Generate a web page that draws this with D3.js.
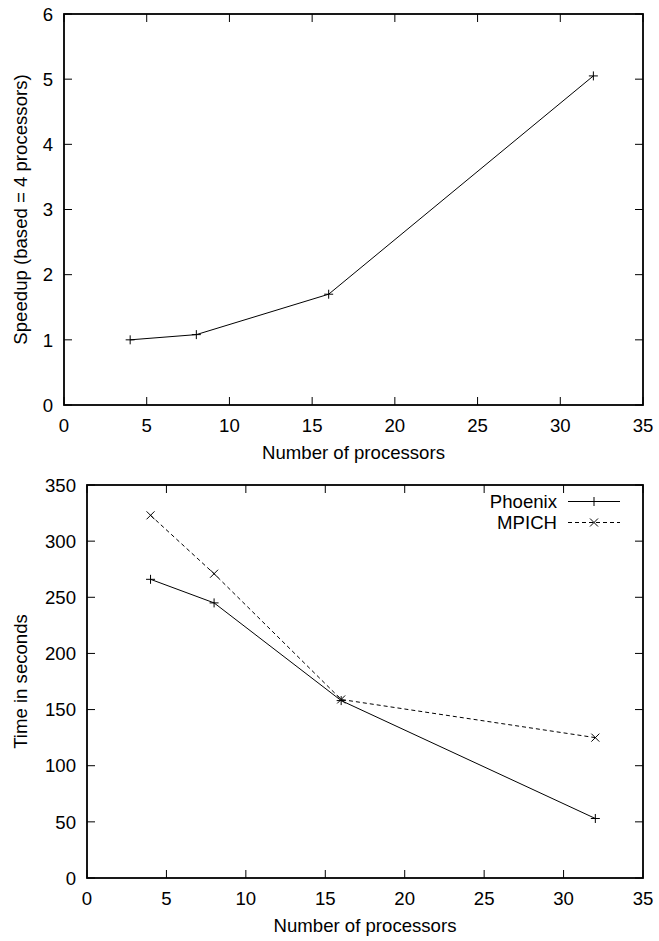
<!DOCTYPE html>
<html>
<head>
<meta charset="utf-8">
<script src="https://cdn.jsdelivr.net/npm/d3@7.9.0/dist/d3.min.js"></script>
<style>
  html, body { margin: 0; padding: 0; background: #fff; }
  svg text { font-family: "Liberation Sans", Arial, Helvetica, sans-serif; font-size: 18.6px; fill: #000; }
</style>
</head>
<body>
<svg id="chart" width="659" height="941"></svg>
<script>
// data
const processors = [4, 8, 16, 32];
const speedup = [1.0, 1.08, 1.70, 5.05];
const phoenixTime = [266, 245, 158, 53];
const mpichTime = [323, 271, 159, 125];

const xTicks = [0, 5, 10, 15, 20, 25, 30, 35];
const speedupTicks = [0, 1, 2, 3, 4, 5, 6];
const timeTicks = [0, 50, 100, 150, 200, 250, 300, 350];

const svg = d3.select('#chart');
const TICK = 8;

function drawFrame(area, xScale, yScale, yTicks, yLabel) {
  const g = svg.append('g');
  // mirrored inward ticks
  const ticks = g.append('g').attr('stroke', '#000').attr('stroke-width', 1);
  xTicks.forEach(t => {
    const x = xScale(t);
    ticks.append('line').attr('x1', x).attr('x2', x).attr('y1', area.bottom).attr('y2', area.bottom - TICK);
    ticks.append('line').attr('x1', x).attr('x2', x).attr('y1', area.top).attr('y2', area.top + TICK);
    g.append('text').attr('x', x).attr('y', area.bottom + 26.5).attr('text-anchor', 'middle').text(t);
  });
  yTicks.forEach(t => {
    const y = yScale(t);
    ticks.append('line').attr('x1', area.left).attr('x2', area.left + TICK).attr('y1', y).attr('y2', y);
    ticks.append('line').attr('x1', area.right).attr('x2', area.right - TICK).attr('y1', y).attr('y2', y);
    g.append('text').attr('x', area.left - 11).attr('y', y + 6.7).attr('text-anchor', 'end').text(t);
  });
  g.append('rect')
    .attr('x', area.left).attr('y', area.top)
    .attr('width', area.right - area.left).attr('height', area.bottom - area.top)
    .attr('fill', 'none').attr('stroke', '#000').attr('stroke-width', 1.8);

  g.append('text')
    .attr('x', (area.left + area.right) / 2).attr('y', area.bottom + 54)
    .attr('text-anchor', 'middle').text('Number of processors');
  g.append('text')
    .attr('transform', `translate(27, ${(area.top + area.bottom) / 2}) rotate(-90)`)
    .attr('text-anchor', 'middle').text(yLabel);
}

function plus(g, x, y) {
  g.append('path').attr('d', `M${x - 4.5},${y}H${x + 4.5}M${x},${y - 4.5}V${y + 4.5}`)
    .attr('stroke', '#000').attr('stroke-width', 1);
}
function cross(g, x, y) {
  g.append('path').attr('d', `M${x - 4},${y - 4}L${x + 4},${y + 4}M${x - 4},${y + 4}L${x + 4},${y - 4}`)
    .attr('stroke', '#000').attr('stroke-width', 1);
}

function drawSeries(xScale, yScale, values, dash, marker) {
  const pts = processors.map((p, i) => [xScale(p), yScale(values[i])]);
  svg.append('path')
    .attr('d', d3.line()(pts))
    .attr('fill', 'none').attr('stroke', '#000').attr('stroke-width', 1)
    .attr('stroke-dasharray', dash);
  const g = svg.append('g');
  pts.forEach(([x, y]) => marker(g, x, y));
}

// top chart: speedup
const topArea = { left: 64, right: 643, top: 14, bottom: 405 };
const x1 = d3.scaleLinear().domain([0, 35]).range([topArea.left, topArea.right]);
const y1 = d3.scaleLinear().domain([0, 6]).range([topArea.bottom, topArea.top]);
drawFrame(topArea, x1, y1, speedupTicks, 'Speedup (based = 4 processors)');
drawSeries(x1, y1, speedup, null, plus);

// bottom chart: time
const botArea = { left: 87, right: 643, top: 485, bottom: 878 };
const x2 = d3.scaleLinear().domain([0, 35]).range([botArea.left, botArea.right]);
const y2 = d3.scaleLinear().domain([0, 350]).range([botArea.bottom, botArea.top]);
drawFrame(botArea, x2, y2, timeTicks, 'Time in seconds');
drawSeries(x2, y2, phoenixTime, null, plus);
drawSeries(x2, y2, mpichTime, '4,3', cross);

// legend
const legend = svg.append('g');
const legendItems = [
  { name: 'Phoenix', dash: null, marker: plus },
  { name: 'MPICH', dash: '4,3', marker: cross }
];
legendItems.forEach((d, i) => {
  const cy = 501.5 + i * 21;
  legend.append('text').attr('x', 557).attr('y', cy + 6.7).attr('text-anchor', 'end').text(d.name);
  legend.append('line').attr('x1', 568).attr('x2', 620).attr('y1', cy).attr('y2', cy)
    .attr('stroke', '#000').attr('stroke-width', 1).attr('stroke-dasharray', d.dash);
  d.marker(legend, 594, cy);
});
</script>
</body>
</html>
